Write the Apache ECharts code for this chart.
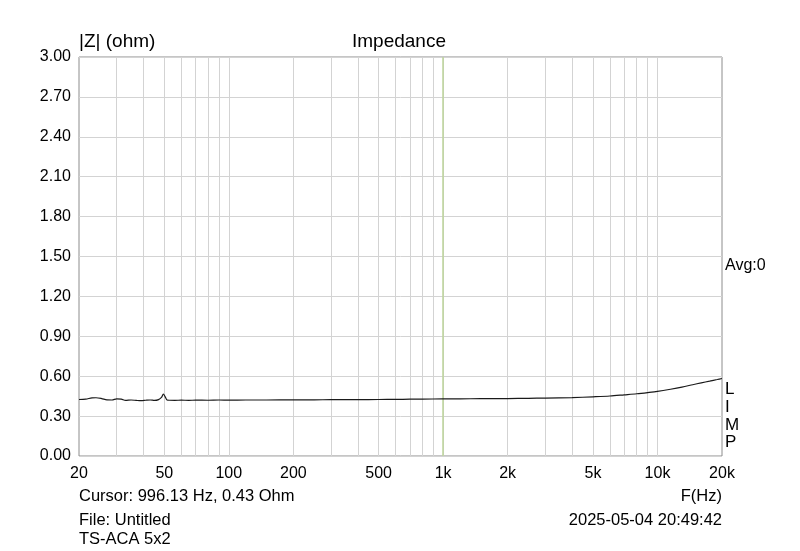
<!DOCTYPE html>
<html>
<head>
<meta charset="utf-8">
<script src="https://cdn.jsdelivr.net/npm/echarts@6/dist/echarts.min.js"></script>
<style>html,body{margin:0;padding:0;background:#fff;}#c{width:800px;height:551px;}</style>
</head>
<body>
<div id="c"></div>
<script>
// Data
const freqs = [20, 21.5, 23, 24, 25.5, 27, 28.5, 30, 31.5, 33, 35, 37, 39, 41, 43, 45, 47, 48.5, 49.5, 50.5, 51.5, 53, 56, 60, 65, 70, 80, 90, 100, 120, 150, 200, 250, 300, 400, 500, 600, 700, 800, 1000, 1200, 1500, 2000, 2500, 3000, 4000, 5000, 6000, 7000, 8000, 9000, 10000, 11500, 13000, 14600, 16000, 17500, 19000, 20000];
const impedance = [0.425, 0.428, 0.437, 0.438, 0.432, 0.422, 0.421, 0.430, 0.428, 0.418, 0.421, 0.418, 0.416, 0.419, 0.421, 0.418, 0.424, 0.440, 0.466, 0.445, 0.421, 0.419, 0.418, 0.420, 0.418, 0.420, 0.419, 0.421, 0.420, 0.421, 0.421, 0.422, 0.422, 0.424, 0.424, 0.425, 0.426, 0.427, 0.428, 0.429, 0.430, 0.431, 0.432, 0.434, 0.435, 0.439, 0.445, 0.451, 0.460, 0.468, 0.477, 0.486, 0.502, 0.518, 0.536, 0.550, 0.563, 0.575, 0.583];
const xTickLabels = [20, 50, 100, 200, 500, 1000, 2000, 5000, 10000, 20000];
const xGridValues = [30, 40, 50, 60, 70, 80, 90, 100, 200, 300, 400, 500, 600, 700, 800, 900, 1000, 2000, 3000, 4000, 5000, 6000, 7000, 8000, 9000, 10000];
const cursorFreq = 996.13;
const yMin = 0, yMax = 3.0, yStep = 0.3;

const chart = echarts.init(document.getElementById('c'), null, {renderer: 'canvas'});
const FONT = '"Liberation Sans", Arial, sans-serif';
const gridLines = xGridValues.map(v => ({xAxis: v}));
const option = {
  animation: false,
  backgroundColor: '#ffffff',
  textStyle: {fontFamily: FONT, color: '#000'},
  grid: {left: 79, right: 78, top: 57, bottom: 95, show: true, borderColor: '#8c8c8c', borderWidth: 1, backgroundColor: 'transparent'},
  xAxis: {
    type: 'log', logBase: 10, min: 20, max: 20000,
    axisLine: {show: false}, axisTick: {show: false},
    splitLine: {show: false},
    axisLabel: {
      customValues: xTickLabels, margin: 10, fontSize: 16, color: '#000', fontFamily: FONT,
      formatter: v => v >= 1000 ? (v / 1000) + 'k' : String(v)
    }
  },
  yAxis: {
    type: 'value', min: yMin, max: yMax, interval: yStep,
    axisLine: {show: false}, axisTick: {show: false},
    splitLine: {show: true, lineStyle: {color: '#d3d3d3', width: 1}},
    axisLabel: {fontSize: 16, color: '#000', margin: 8, fontFamily: FONT, formatter: v => v.toFixed(2)}
  },
  series: [
    {
      type: 'line', data: [], silent: true,
      markLine: {
        silent: true, symbol: 'none', animation: false,
        label: {show: false},
        lineStyle: {color: '#d3d3d3', width: 1, type: 'solid'},
        data: gridLines
      }
    },
    {
      type: 'line', data: [], silent: true,
      markLine: {
        silent: true, symbol: 'none', animation: false,
        label: {show: false},
        lineStyle: {color: '#bcd49a', width: 1.5, type: 'solid'},
        data: [{xAxis: cursorFreq}]
      }
    },
    {
      type: 'line', showSymbol: false, smooth: 0.3,
      data: freqs.map((f, i) => [f, impedance[i]]),
      lineStyle: {color: '#1a1a1a', width: 1.2},
      z: 5
    }
  ],
  graphic: [
    {type: 'text', left: 79, top: 32, style: {text: '|Z| (ohm)', fontSize: 19, fill: '#000', fontFamily: FONT}},
    {type: 'text', left: 352, top: 32, style: {text: 'Impedance', fontSize: 19, fill: '#000', fontFamily: FONT}},
    {type: 'text', left: 725, top: 258, style: {text: 'Avg:0', fontSize: 16, fill: '#000', fontFamily: FONT}},
    {type: 'text', left: 725, top: 381, style: {text: 'L', fontSize: 17, fill: '#000', fontFamily: FONT}},
    {type: 'text', left: 725, top: 399, style: {text: 'I', fontSize: 17, fill: '#000', fontFamily: FONT}},
    {type: 'text', left: 725, top: 417, style: {text: 'M', fontSize: 17, fill: '#000', fontFamily: FONT}},
    {type: 'text', left: 725, top: 434, style: {text: 'P', fontSize: 17, fill: '#000', fontFamily: FONT}},
    {type: 'text', left: 79, top: 488, style: {text: 'Cursor: 996.13 Hz, 0.43 Ohm', fontSize: 16.5, fill: '#000', fontFamily: FONT}},
    {type: 'text', right: 78, top: 488, style: {text: 'F(Hz)', fontSize: 16.5, fill: '#000', fontFamily: FONT}},
    {type: 'text', left: 79, top: 512, style: {text: 'File: Untitled', fontSize: 16.5, fill: '#000', fontFamily: FONT}},
    {type: 'text', right: 78, top: 512, style: {text: '2025-05-04 20:49:42', fontSize: 16.5, fill: '#000', fontFamily: FONT}},
    {type: 'text', left: 79, top: 531, style: {text: 'TS-ACA 5x2', fontSize: 16.5, fill: '#000', fontFamily: FONT}}
  ]
};
chart.setOption(option);
</script>
</body>
</html>
